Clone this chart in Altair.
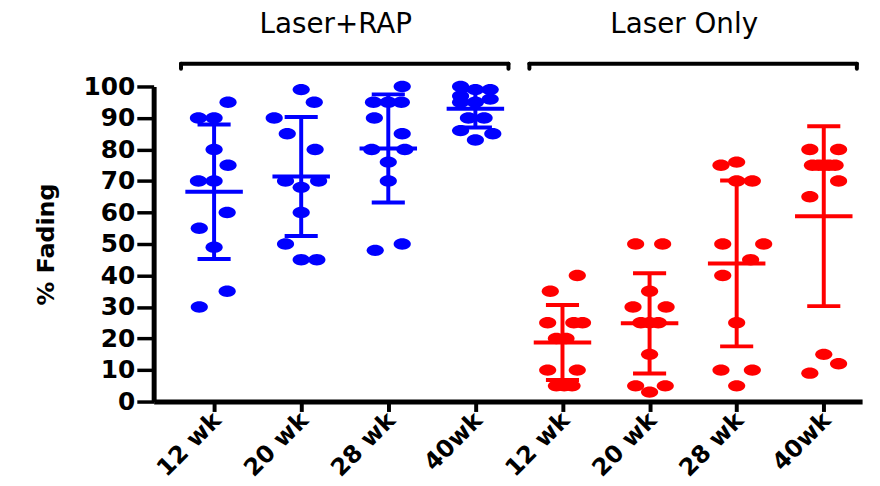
import altair as alt
import pandas as pd

weeks = ["12 wk", "20 wk", "28 wk", "40wk"]
treatments = ["Laser+RAP", "Laser Only"]

# % fading per eye, Laser+RAP
rap_12 = [95, 90, 90, 80, 75, 70, 70, 60, 55, 49, 35, 30]
rap_20 = [99, 95, 90, 85, 80, 70, 70, 68, 60, 50, 45, 45]
rap_28 = [100, 95, 95, 95, 90, 85, 80, 80, 76, 70, 50, 48]
rap_40 = [100, 99, 99, 97, 96, 95, 95, 90, 90, 86, 85, 83]
# % fading per eye, Laser only
las_12 = [40, 35, 25, 25, 25, 20, 20, 10, 10, 5, 5, 5]
las_20 = [50, 50, 35, 30, 30, 25, 25, 25, 15, 5, 5, 3]
las_28 = [76, 75, 70, 70, 50, 50, 45, 40, 25, 10, 10, 5]
las_40 = [80, 80, 75, 75, 75, 75, 75, 70, 65, 15, 12, 9]

# horizontal scatter of the dots (fraction of a category step)
jit_rap_12 = [0.16, -0.18, 0.0, 0.0, 0.16, -0.18, 0.0, 0.15, -0.17, 0.0, 0.15, -0.17]
jit_rap_20 = [0.0, 0.15, -0.31, -0.16, 0.16, -0.18, 0.2, 0.0, 0.0, -0.18, 0.0, 0.18]
jit_rap_28 = [0.16, -0.17, 0.0, 0.15, -0.16, 0.16, -0.19, 0.19, 0.0, 0.0, 0.16, -0.15]
jit_rap_40 = [-0.17, 0.17, 0.0, -0.17, 0.17, -0.17, 0.0, -0.08, 0.1, -0.17, 0.2, 0.0]
jit_las_12 = [0.17, -0.14, -0.17, 0.13, 0.23, -0.07, 0.04, -0.17, 0.17, -0.07, 0.02, 0.11]
jit_las_20 = [-0.16, 0.15, 0.0, -0.19, 0.19, -0.1, 0.0, 0.1, 0.0, -0.16, 0.18, 0.0]
jit_las_28 = [0.0, -0.18, 0.0, 0.18, -0.16, 0.31, 0.16, -0.16, 0.0, -0.18, 0.18, 0.0]
jit_las_40 = [-0.16, 0.17, -0.13, -0.06, 0.0, 0.06, 0.13, 0.17, -0.16, 0.0, 0.17, -0.16]

series = [
    ("Laser+RAP", rap_12, jit_rap_12), ("Laser+RAP", rap_20, jit_rap_20),
    ("Laser+RAP", rap_28, jit_rap_28), ("Laser+RAP", rap_40, jit_rap_40),
    ("Laser Only", las_12, jit_las_12), ("Laser Only", las_20, jit_las_20),
    ("Laser Only", las_28, jit_las_28), ("Laser Only", las_40, jit_las_40),
]
rows = []
for idx, (trt, vals, jits) in enumerate(series):
    for v, j in zip(vals, jits):
        rows.append({"idx": idx, "treatment": trt, "week": weeks[idx % 4], "value": v, "jit": j})
df = pd.DataFrame(rows)

labels = [w for _ in treatments for w in weeks]
label_expr = "[" + ",".join("'" + l + "'" for l in labels) + "][datum.value]"

bracket_df = pd.DataFrame({"treatment": treatments, "first": [0, 4], "last": [3, 7]})

FONT = "DejaVu Sans"
xscale = alt.Scale(domain=[-0.694, 7.44], nice=False, zero=False)
yscale = alt.Scale(domain=[0, 100], nice=False, zero=True)
color = alt.Color("treatment:N", scale=alt.Scale(domain=treatments, range=["#0000ff", "#ff0000"]), legend=None)
ELLIPSE = "M -1 0 A 1 0.66 0 1 0 1 0 A 1 0.66 0 1 0 -1 0 Z"

xaxis = alt.Axis(
    values=list(range(8)), labelExpr=label_expr, title=None, grid=False,
    labelAngle=-45, labelAlign="right", labelBaseline="middle",
    labelFont=FONT, labelFontWeight="bold", labelFontSize=24, labelColor="black",
    labelPadding=5, labelOffset=3, labelOverlap=False, labelFlush=False,
    tickSize=10, tickWidth=4, tickColor="black",
    domainWidth=5, domainColor="black")
yaxis = alt.Axis(
    values=list(range(0, 101, 10)), tickCount=11, title="% Fading", grid=False,
    titleFont=FONT, titleFontWeight="bold", titleFontSize=24, titleColor="black", titlePadding=25,
    labelFont=FONT, labelFontWeight="bold", labelFontSize=25, labelColor="black",
    labelOverlap=False, labelFlush=False,
    labelPadding=2, tickSize=17, tickWidth=3.5, tickColor="black",
    domainWidth=5, domainColor="black")


def X(field):
    return alt.X(field, scale=xscale, axis=xaxis)


def Y(field):
    return alt.Y(field, scale=yscale, axis=yaxis)


base = alt.Chart(df)

points = base.transform_calculate(xpos="datum.idx + datum.jit").mark_point(
    shape=ELLIPSE, filled=True, size=300, opacity=1, strokeWidth=0
).encode(x=X("xpos:Q"), y=Y("value:Q"), color=color)

stats = base.transform_aggregate(
    mean="mean(value)", sd="stdev(value)", groupby=["idx", "treatment"]
).transform_calculate(
    lo="datum.mean - datum.sd", hi="datum.mean + datum.sd",
    mx1="datum.idx - 0.33", mx2="datum.idx + 0.33",
    cx1="datum.idx - 0.19", cx2="datum.idx + 0.19",
)
vline = stats.mark_rule(strokeWidth=4).encode(x=X("idx:Q"), y=Y("lo:Q"), y2="hi:Q", color=color)
mean_line = stats.mark_rule(strokeWidth=4).encode(x=X("mx1:Q"), x2="mx2:Q", y=Y("mean:Q"), color=color)
cap_hi = stats.mark_rule(strokeWidth=4).encode(x=X("cx1:Q"), x2="cx2:Q", y=Y("hi:Q"), color=color)
cap_lo = stats.mark_rule(strokeWidth=4).encode(x=X("cx1:Q"), x2="cx2:Q", y=Y("lo:Q"), color=color)

br = alt.Chart(bracket_df).transform_calculate(
    x1="datum.first - 0.38", x2="datum.last + 0.38", xm="(datum.first + datum.last) / 2",
    yb="107.2", yt="105.6", ytxt="119.6",
)
br_line = br.mark_rule(strokeWidth=4, color="black", strokeCap="round").encode(
    x=X("x1:Q"), x2="x2:Q", y=Y("yb:Q"))
br_left = br.mark_rule(strokeWidth=4, color="black", strokeCap="round").encode(
    x=X("x1:Q"), y=Y("yb:Q"), y2="yt:Q")
br_right = br.mark_rule(strokeWidth=4, color="black", strokeCap="round").encode(
    x=X("x2:Q"), y=Y("yb:Q"), y2="yt:Q")
br_text = br.mark_text(font=FONT, fontSize=28, color="black", baseline="middle", align="center", dx=-9).encode(
    x=X("xm:Q"), y=Y("ytxt:Q"), text="treatment:N")

chart = alt.layer(
    points, vline, mean_line, cap_hi, cap_lo, br_line, br_left, br_right, br_text
).properties(
    width=715, height=318,
    autosize=alt.AutoSizeParams(type="none"),
    padding={"left": 147, "top": 77, "right": 10, "bottom": 80},
    background="white",
).configure_view(stroke=None)

chart.save("out.html", embed_options={"renderer": "svg", "actions": False})
